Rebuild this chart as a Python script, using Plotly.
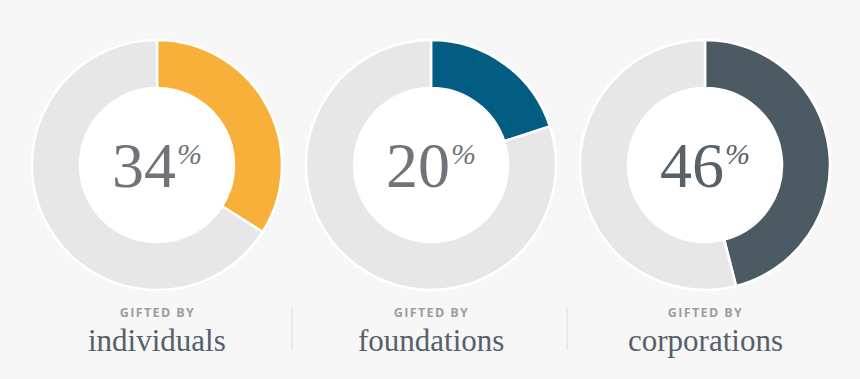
import plotly.graph_objects as go

W, H = 860, 379

# ---- data ----
categories = ["individuals", "foundations", "corporations"]
shares = [34, 20, 46]
caption = "GIFTED BY"
slice_colors = ["#f8b03b", "#035d82", "#4c5a63"]
number_colors = ["#707478", "#707478", "#56616a"]

# ---- layout geometry (pixels) ----
centers_x = [157, 431, 705]
center_y = 165
R = 125
R_hole = 77

def px(x):
    return x / W

def py(y):
    return (H - y) / H

fig = go.Figure()

for i, (cat, val) in enumerate(zip(categories, shares)):
    cx = centers_x[i]
    fig.add_trace(go.Pie(
        values=[val, 100 - val],
        labels=[cat, "other"],
        sort=False,
        direction="clockwise",
        rotation=0,
        hole=R_hole / R,
        marker=dict(colors=[slice_colors[i], "#e7e7e7"],
                    line=dict(color="#ffffff", width=2.5)),
        textinfo="none",
        hoverinfo="skip",
        showlegend=False,
        domain=dict(x=[px(cx - R), px(cx + R)], y=[py(center_y + R), py(center_y - R)]),
    ))
    # white centre disc
    fig.add_trace(go.Pie(
        values=[1],
        labels=[" "],
        marker=dict(colors=["#ffffff"], line=dict(width=0)),
        textinfo="none",
        hoverinfo="skip",
        showlegend=False,
        domain=dict(x=[px(cx - R_hole), px(cx + R_hole)],
                    y=[py(center_y + R_hole), py(center_y - R_hole)]),
    ))

annotations = []
for i, (cat, val) in enumerate(zip(categories, shares)):
    cx = centers_x[i]
    annotations.append(dict(
        x=px(cx + 21), y=py(166), xref="paper", yref="paper",
        text=str(val), showarrow=False, xanchor="right", yanchor="middle",
        font=dict(family="Liberation Serif", size=64, color=number_colors[i]),
    ))
    annotations.append(dict(
        x=px(cx + 18), y=py(154), xref="paper", yref="paper",
        text="<i>%</i>", showarrow=False, xanchor="left", yanchor="middle",
        font=dict(family="Liberation Serif", size=30, color=number_colors[i]),
    ))
    annotations.append(dict(
        x=px(cx), y=py(312), xref="paper", yref="paper",
        text=caption, showarrow=False, xanchor="center", yanchor="middle",
        font=dict(family="Open Sans", size=12.5, color="#9b9ea1", weight=700),
    ))
    annotations.append(dict(
        x=px(cx), y=py(340), xref="paper", yref="paper",
        text=cat, showarrow=False, xanchor="center", yanchor="middle",
        font=dict(family="Liberation Serif", size=31, color="#55606a"),
    ))

shapes = []
for sx in [292, 567]:
    shapes.append(dict(type="line", xref="paper", yref="paper",
                       x0=px(sx), x1=px(sx), y0=py(307), y1=py(350),
                       line=dict(color="#e6e6e6", width=1.5)))

fig.update_layout(
    width=W, height=H,
    margin=dict(l=0, r=0, t=0, b=0),
    paper_bgcolor="#f7f7f7",
    plot_bgcolor="#f7f7f7",
    annotations=annotations,
    shapes=shapes,
)

fig.write_html(
    "out.html",
    config={"displayModeBar": False},
    post_script=(
        "document.body.style.margin='0';"
        "document.body.style.background='#f7f7f7';"
        "document.querySelectorAll('.annotation-text').forEach(function(t){"
        "if(t.textContent==='GIFTED BY'){t.style.letterSpacing='1.4px';}});"
    ),
)
